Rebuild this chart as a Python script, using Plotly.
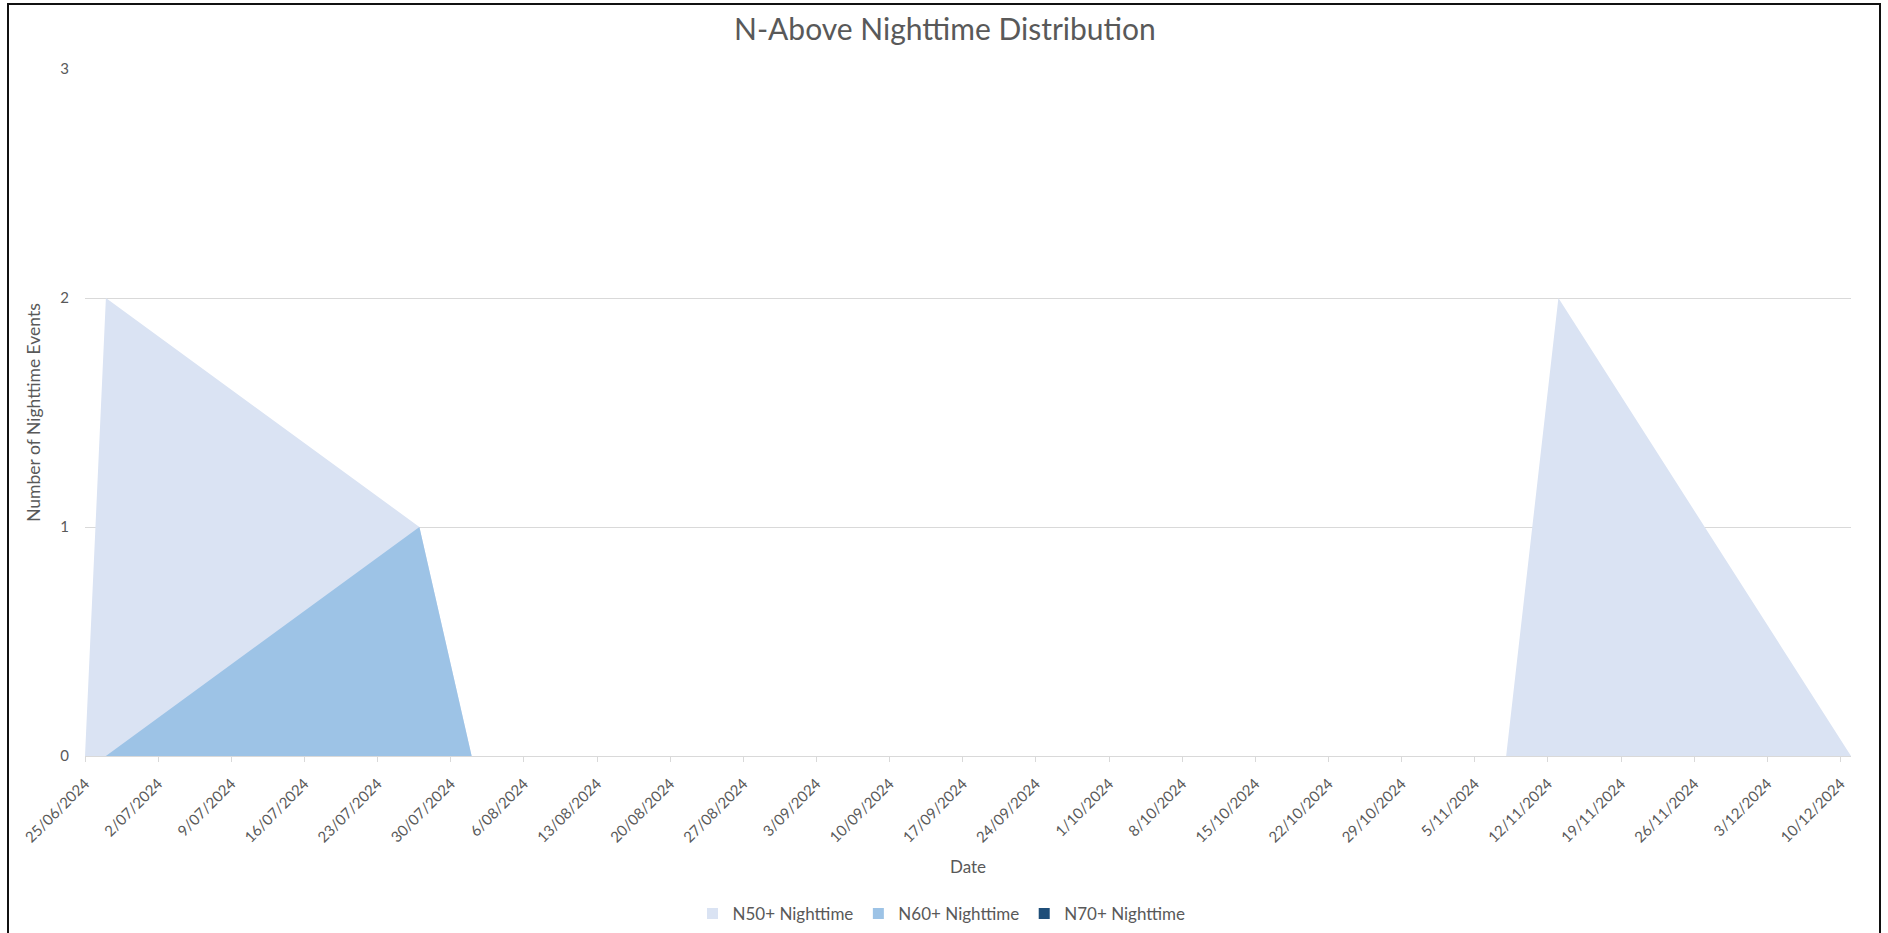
import plotly.graph_objects as go
import pandas as pd

# ---- data ----
dates = ["2024-06-25", "2024-06-27", "2024-07-27", "2024-08-01",
         "2024-11-08", "2024-11-13", "2024-12-11"]
n50 = [0, 2, 1, 0, 0, 2, 0]
n60 = [0, 0, 1, 0, 0, 0, 0]
n70 = [0, 0, 0, 0, 0, 0, 0]
series_names = ["N50+ Nighttime", "N60+ Nighttime", "N70+ Nighttime"]
series_colors = ["#DAE3F3", "#9DC3E6", "#1F4E79"]
y_ticks = [0, 1, 2, 3]

tick_dates = pd.date_range("2024-06-25", "2024-12-10", freq="7D")
tick_text = [f"{d.day}/{d.month:02d}/{d.year}" for d in tick_dates]

FONT = "Lato"
GREY = "#595959"

fig = go.Figure()
for name, vals, col in zip(series_names, [n50, n60, n70], series_colors):
    fig.add_trace(go.Scatter(
        x=dates, y=vals, name=name, mode="lines", showlegend=False,
        line=dict(width=0, color=col), fill="tozeroy", fillcolor=col,
    ))
# legend entries with square swatches
for name, col in zip(series_names, series_colors):
    fig.add_trace(go.Scatter(
        x=[None], y=[None], name=name, mode="markers",
        marker=dict(symbol="square", size=11, color=col),
    ))

fig.update_layout(
    width=1888, height=933,
    margin=dict(l=85, r=37, t=69, b=177, autoexpand=False),
    paper_bgcolor="white", plot_bgcolor="white",
    font=dict(family=FONT, color=GREY),
    title=dict(text="N-Above Nighttime Distribution", x=0.5005, xanchor="center",
               y=1 - 29 / 933, yanchor="middle",
               font=dict(size=30, color=GREY, family=FONT)),
    showlegend=True,
    legend=dict(orientation="h", x=0.485, xanchor="center", y=-0.23, yanchor="middle",
                font=dict(size=17, color=GREY, family=FONT), itemwidth=30),
    xaxis=dict(
        type="date", range=["2024-06-25", "2024-12-11"], automargin=False,
        tickvals=list(tick_dates), ticktext=tick_text, tickangle=-45,
        showgrid=False, showline=True, linecolor="#D9D9D9", linewidth=1,
        ticks="outside", ticklen=5, tickcolor="#D9D9D9", ticklabelstandoff=7,
        tickfont=dict(size=15, color=GREY, family=FONT),
        title=dict(text="Date", font=dict(size=17, color=GREY, family=FONT), standoff=16),
        zeroline=False,
    ),
    yaxis=dict(
        range=[0, 3], tickvals=y_ticks, showgrid=True, gridcolor="#D9D9D9", gridwidth=1,
        zeroline=False, showline=False, ticks="", ticklabelstandoff=15, automargin=False,
        tickfont=dict(size=15, color=GREY, family=FONT),
        title=dict(text="Number of Nighttime Events",
                   font=dict(size=17.5, color=GREY, family=FONT), standoff=15),
    ),
    shapes=[dict(type="rect", xref="paper", yref="paper",
                 x0=(8 - 85) / 1766, x1=(1880 - 85) / 1766,
                 y0=-0.5, y1=(756 - 4) / 687,
                 line=dict(color="#111111", width=2), fillcolor="rgba(0,0,0,0)",
                 layer="above")],
)

fig.write_html("out.html")
